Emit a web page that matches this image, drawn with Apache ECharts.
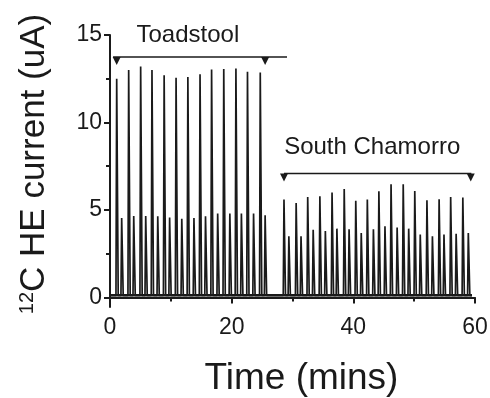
<!DOCTYPE html>
<html>
<head>
<meta charset="utf-8">
<script src="https://cdn.jsdelivr.net/npm/echarts@6/dist/echarts.min.js"></script>
<style>
  html, body { margin: 0; padding: 0; background: #fff; }
  #chart { width: 490px; height: 398px; }
</style>
</head>
<body>
<div id="chart"></div>
<script>
// peak apex times (mins) and heights (uA)
const toadTallT = [1.1, 3.07, 5.04, 6.9, 8.9, 10.86, 12.8, 14.8, 16.7, 18.7, 20.7, 22.6, 24.7];
const toadTallH = [12.5, 13.0, 13.2, 13.0, 12.7, 12.55, 12.6, 12.76, 13.03, 13.05, 13.09, 12.9, 12.86];
const toadShortT = [1.92, 3.9, 5.87, 7.85, 9.8, 11.8, 13.8, 15.7, 17.7, 19.7, 21.6, 23.6, 25.5];
const toadShortH = [4.54, 4.65, 4.65, 4.64, 4.56, 4.5, 4.54, 4.64, 4.79, 4.79, 4.79, 4.79, 4.69];

const southTallT = [28.6, 30.6, 32.5, 34.5, 36.5, 38.5, 40.4, 42.3, 44.2, 46.2, 48.2, 50.1, 52.1, 54.1, 56.0, 58.0];
const southTallH = [5.59, 5.4, 5.74, 5.78, 5.99, 6.2, 5.53, 5.59, 6.07, 6.47, 6.47, 6.08, 5.55, 5.61, 5.74, 5.71];
const southShortT = [29.4, 31.4, 33.4, 35.4, 37.3, 39.3, 41.3, 43.3, 45.2, 47.2, 49.1, 51.0, 53.0, 54.9, 56.9, 58.9];
const southShortH = [3.49, 3.49, 3.87, 3.8, 3.93, 3.89, 3.68, 3.89, 4.06, 3.99, 3.93, 3.6, 3.49, 3.6, 3.64, 3.68];

const baseline = 0.12;
const traceStart = 0;
const traceEnd = 59.5;

// annotation brackets
const toadBracket = [0.5, 29.1];
const toadArrows = [1.1, 25.5];
const toadLevel = 13.74;
const southBracket = [28.6, 59.4];
const southArrows = [28.6, 59.3];
const southLevel = 7.08;
const labels = [
  { name: 'Toadstool', t: 12.8, y: 15.0 },
  { name: 'South Chamorro', t: 43.1, y: 8.6 }
];

const yTicks = [0, 5, 10, 15];
const yMinorTicks = [2.5, 7.5, 12.5];

// build the detector trace: each peak is a sharp spike off the baseline
const peaks = [];
toadTallT.forEach((t, i) => peaks.push([t, toadTallH[i]]));
toadShortT.forEach((t, i) => peaks.push([t, toadShortH[i]]));
southTallT.forEach((t, i) => peaks.push([t, southTallH[i]]));
southShortT.forEach((t, i) => peaks.push([t, southShortH[i]]));
peaks.sort((a, b) => a[0] - b[0]);

const trace = [[traceStart, baseline]];
peaks.forEach(p => {
  trace.push([p[0] - 0.12, baseline]);
  trace.push([p[0], p[1]]);
  trace.push([p[0] + 0.25, baseline]);
});
trace.push([traceEnd, baseline]);

const font = 'Liberation Sans, Arial, sans-serif';
const ink = '#1a1a1a';

const chart = echarts.init(document.getElementById('chart'), null, { renderer: 'canvas' });

chart.setOption({
  backgroundColor: '#fff',
  animation: false,
  grid: { left: 110, right: 15, top: 35, bottom: 91, outerBoundsMode: 'none' },
  xAxis: {
    type: 'value',
    min: 0,
    max: 60,
    interval: 20,
    name: 'Time (mins)',
    nameLocation: 'middle',
    nameGap: 53,
    nameTextStyle: { fontFamily: font, fontSize: 37, color: ink, padding: [0, 0, 0, 18] },
    axisLine: { lineStyle: { color: ink, width: 2 } },
    axisTick: { length: 6, lineStyle: { color: ink, width: 2 } },
    minorTick: { show: true, splitNumber: 2, length: 4, lineStyle: { color: ink, width: 2 } },
    axisLabel: { fontFamily: font, fontSize: 23, color: ink, margin: 9 },
    splitLine: { show: false }
  },
  yAxis: [
    {
      type: 'value',
      min: -0.55,
      max: 15,
      name: '{sup|12}{main|C HE current (uA)}',
      nameLocation: 'middle',
      nameGap: 58,
      nameTextStyle: {
        fontFamily: font,
        color: ink,
        padding: [0, 0, 0, 14],
        rich: {
          sup: { fontFamily: font, fontSize: 20, color: ink, verticalAlign: 'top', padding: [0, 0, 14, 0] },
          main: { fontFamily: font, fontSize: 35, color: ink }
        }
      },
      axisLine: { lineStyle: { color: ink, width: 2 } },
      axisTick: { customValues: yTicks, length: 6, lineStyle: { color: ink, width: 2 } },
      axisLabel: { customValues: yTicks, fontFamily: font, fontSize: 23, color: ink, margin: 8 },
      splitLine: { show: false }
    },
    {
      type: 'value',
      min: -0.55,
      max: 15,
      position: 'left',
      axisLine: { show: false },
      axisTick: { customValues: yMinorTicks, length: 4, lineStyle: { color: ink, width: 2 } },
      axisLabel: { show: false },
      splitLine: { show: false }
    }
  ],
  series: [
    {
      type: 'line',
      data: trace,
      showSymbol: false,
      lineStyle: { color: ink, width: 1.7 },
      silent: true
    },
    {
      // thick noisy baseline band
      type: 'line',
      data: [[traceStart, baseline], [traceEnd, baseline]],
      showSymbol: false,
      lineStyle: { color: ink, width: 2.5 },
      silent: true
    },
    {
      type: 'line',
      data: toadBracket.map(t => [t, toadLevel]),
      showSymbol: false,
      lineStyle: { color: ink, width: 1.6 },
      silent: true
    },
    {
      type: 'line',
      data: southBracket.map(t => [t, southLevel]),
      showSymbol: false,
      lineStyle: { color: ink, width: 1.6 },
      silent: true
    },
    {
      type: 'scatter',
      data: toadArrows.map(t => [t, toadLevel]).concat(southArrows.map(t => [t, southLevel])),
      symbol: 'triangle',
      symbolRotate: 180,
      symbolSize: [8, 8],
      symbolOffset: [0, 4],
      itemStyle: { color: ink, opacity: 1 },
      clip: false,
      silent: true
    },
    {
      type: 'scatter',
      data: labels.map(d => ({ value: [d.t, d.y], name: d.name })),
      symbolSize: 0,
      clip: false,
      silent: true,
      itemStyle: { opacity: 1 },
      label: {
        show: true,
        position: 'inside',
        formatter: p => p.name,
        fontFamily: font,
        fontSize: 24,
        color: ink,
        opacity: 1
      }
    }
  ]
});
</script>
</body>
</html>
